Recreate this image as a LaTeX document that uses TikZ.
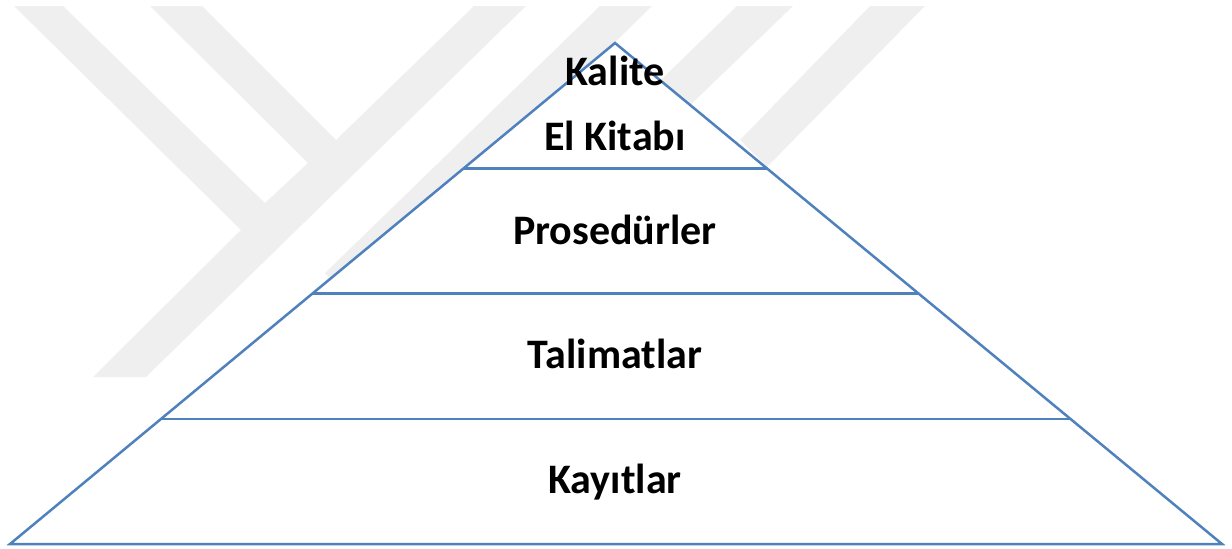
\documentclass[tikz,border=0pt]{standalone}
\usepackage{fontspec}
\setmainfont{Carlito}
\usetikzlibrary{calc}
\definecolor{pyrblue}{RGB}{79,129,189}
\definecolor{wmgray}{RGB}{239,239,239}
\tikzset{
    level/.style={font=\fontsize{42}{50}\selectfont\bfseries, anchor=base, inner sep=0pt},
    edge/.style={draw=pyrblue, line width=2.5pt},
    wmstripe/.style={fill=wmgray}
}
\begin{document}
\begin{tikzpicture}[x=1pt,y=-1pt]
                \useasboundingbox (0,0) rectangle (1232,549);
                \fill[wmstripe] (14,6) -- (63,6) -- (265,203) -- (308,163) -- (150,6) -- (202,6) -- (336,140) -- (474,6) -- (526,6) -- (146,377) -- (93,377) -- (241,230) -- cycle;
                \fill[wmstripe] (600,6) -- (652,6) -- (352,300) -- (325,273) -- cycle;
                \fill[wmstripe] (737,6) -- (793,6) -- (626,167) -- (599,140) -- cycle;
                \fill[wmstripe] (870,6) -- (925,6) -- (767,167) -- (740,140) -- cycle;
                \coordinate (top) at (615,43);
                \coordinate (bl) at (10,544);
                \coordinate (br) at (1222,544);
                \coordinate (l1) at ($(top)!0.25!(bl)$);
                \coordinate (r1) at ($(top)!0.25!(br)$);
                \coordinate (l2) at ($(top)!0.5!(bl)$);
                \coordinate (r2) at ($(top)!0.5!(br)$);
                \coordinate (l3) at ($(top)!0.75!(bl)$);
                \coordinate (r3) at ($(top)!0.75!(br)$);
                \fill[white] (top) -- (bl) -- (br) -- cycle;
                \draw[edge] (top) -- (bl) -- (br) -- cycle;
                \draw[edge] (l1) -- (r1);
                \draw[edge] (l2) -- (r2);
                \draw[edge] (l3) -- (r3);
                \node[level] (kalite) at (615,85) {Kalite};
                \node[level] (elkitabi) at (615,150) {El Kitabı};
                \node[level] (prosedur) at (615,244) {Prosedürler};
                \node[level] (talimat) at (615,368) {Talimatlar};
                \node[level] (kayit) at (615,493) {Kayıtlar};
            \end{tikzpicture}
\end{document}
